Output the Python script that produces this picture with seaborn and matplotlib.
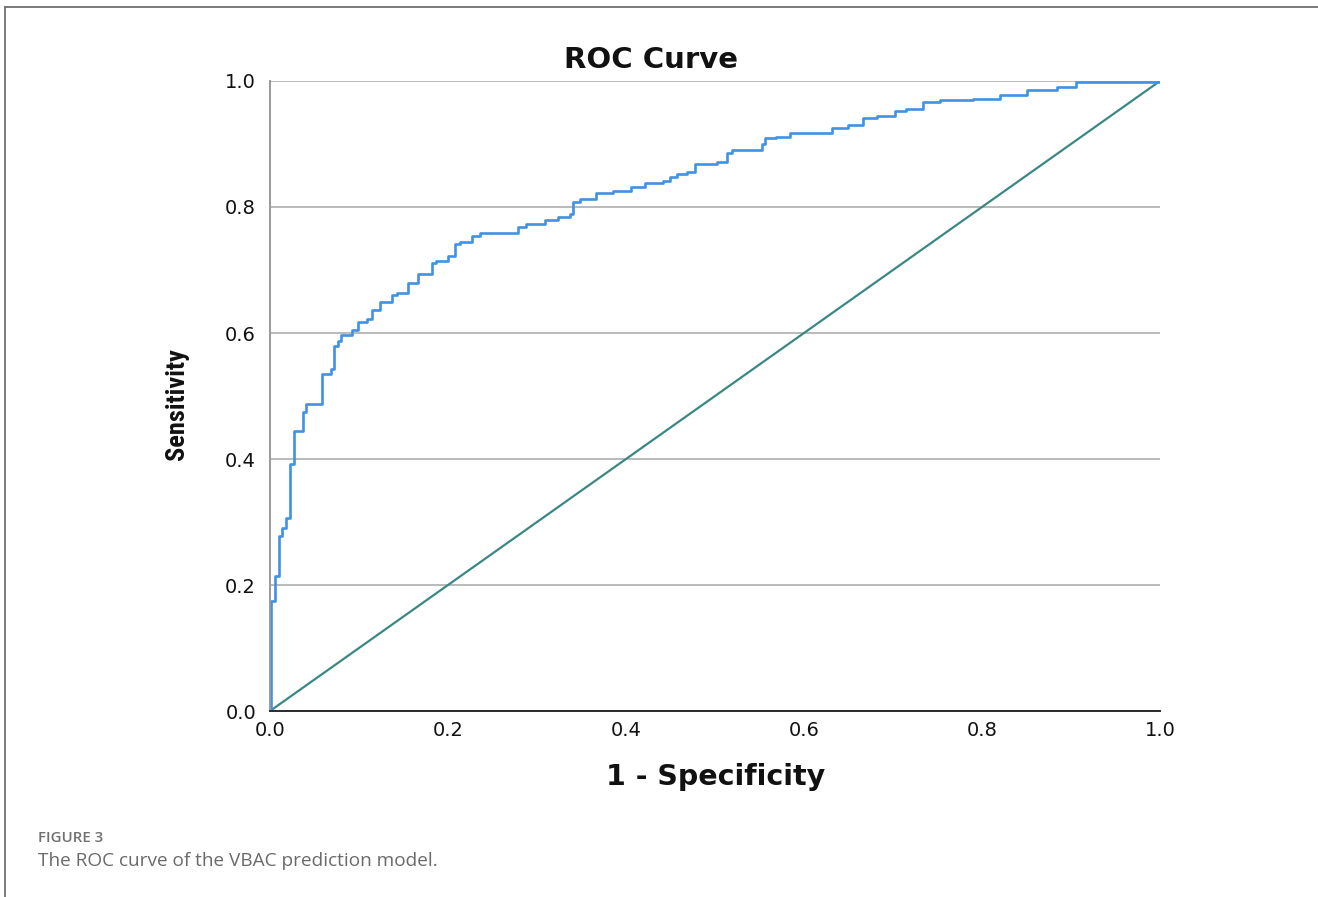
import matplotlib
matplotlib.use("Agg")
import matplotlib.pyplot as plt
from matplotlib.lines import Line2D
import seaborn as sns
import pandas as pd

# ---- data ----
fpr = [0.000, 0.001, 0.006, 0.010, 0.013, 0.018, 0.022, 0.027, 0.037, 0.040,
       0.058, 0.068, 0.072, 0.076, 0.080, 0.092, 0.099, 0.109, 0.115, 0.124,
       0.137, 0.143, 0.155, 0.166, 0.182, 0.187, 0.200, 0.208, 0.213, 0.227,
       0.236, 0.279, 0.288, 0.309, 0.324, 0.337, 0.341, 0.348, 0.366, 0.385,
       0.406, 0.421, 0.442, 0.449, 0.457, 0.468, 0.478, 0.502, 0.513, 0.519,
       0.553, 0.556, 0.569, 0.584, 0.631, 0.649, 0.666, 0.682, 0.702, 0.715,
       0.734, 0.753, 0.790, 0.820, 0.850, 0.884, 0.906, 1.000]
tpr = [0.000, 0.175, 0.215, 0.277, 0.290, 0.306, 0.392, 0.445, 0.475, 0.487,
       0.535, 0.543, 0.579, 0.588, 0.597, 0.605, 0.617, 0.622, 0.637, 0.649,
       0.660, 0.664, 0.679, 0.693, 0.711, 0.715, 0.722, 0.742, 0.745, 0.754,
       0.758, 0.768, 0.773, 0.779, 0.784, 0.789, 0.808, 0.812, 0.822, 0.826,
       0.832, 0.838, 0.842, 0.848, 0.853, 0.856, 0.868, 0.872, 0.886, 0.891,
       0.900, 0.909, 0.911, 0.917, 0.925, 0.930, 0.941, 0.944, 0.952, 0.956,
       0.966, 0.970, 0.972, 0.978, 0.986, 0.991, 0.998, 1.000]
diag_x = [0.0, 1.0]
diag_y = [0.0, 1.0]
ticks = [0.0, 0.2, 0.4, 0.6, 0.8, 1.0]
tick_labels = ["0.0", "0.2", "0.4", "0.6", "0.8", "1.0"]

title_text = "ROC Curve"
xlabel_text = "1 - Specificity"
ylabel_text = "Sensitivity"
fig_label = "FIGURE 3"
caption = "The ROC curve of the VBAC prediction model."

sns.set_style("white")
plt.rcParams['font.family'] = ['DejaVu Sans']

roc_df = pd.DataFrame({"fpr": fpr, "tpr": tpr})
diag_df = pd.DataFrame({"x": diag_x, "y": diag_y})

fig = plt.figure(figsize=(13.18, 8.97), dpi=100)
ax = fig.add_axes([270/1318, 1-711/897, 890/1318, 630/897])

ax.set_xlim(0, 1)
ax.set_ylim(0, 1)
ax.set_yticks(ticks)
ax.set_xticks(ticks)
ax.yaxis.grid(True, color="#b4b4b4", linewidth=1.3)
ax.xaxis.grid(False)
ax.set_axisbelow(True)

sns.lineplot(data=diag_df, x="x", y="y", ax=ax, color="#3a8884",
             linewidth=1.6, sort=False, estimator=None)
sns.lineplot(data=roc_df, x="fpr", y="tpr", ax=ax, color="#3f92e4",
             linewidth=1.9, sort=False, estimator=None, drawstyle="steps-post")

ax.set_yticklabels(tick_labels, fontsize=14, color="#111111")
ax.set_xticklabels(tick_labels, fontsize=14, color="#111111")
ax.tick_params(axis="both", length=0)
ax.tick_params(axis="y", pad=10)
ax.tick_params(axis="x", pad=7)

for s in ["top", "right"]:
    ax.spines[s].set_visible(False)
ax.spines["left"].set_color("#9a9a9a")
ax.spines["left"].set_linewidth(1.4)
ax.spines["bottom"].set_color("#2a2a2a")
ax.spines["bottom"].set_linewidth(1.4)

ax.set_xlabel("")
ax.set_ylabel("")

fig.text(651/1318, 1-60/897, title_text, ha="center", va="center",
         fontsize=21, fontweight="bold", color="#111111")
fig.text(716/1318, 1-777/897, xlabel_text, ha="center", va="center",
         fontsize=20.5, fontweight="bold", color="#111111")
fig.text(177/1318, 1-404/897, ylabel_text, ha="center", va="center",
         rotation=90, fontsize=19, fontweight="bold", color="#111111",
         family=["DejaVu Sans Condensed", "Roboto Condensed",
                 "Liberation Sans Narrow", "DejaVu Sans"],
         fontstretch="condensed")

fig.text(38/1318, 1-838/897, fig_label, ha="left", va="center",
         fontsize=10.8, fontweight="semibold", color="#707070",
         family=["Open Sans", "DejaVu Sans"])
fig.text(38/1318, 1-861/897, caption, ha="left", va="center",
         fontsize=13.7, color="#6a6a6a", family=["Open Sans", "DejaVu Sans"])

# page frame (left and top border)
fig.add_artist(Line2D([4.5/1318, 4.5/1318], [0, 1-7/897], transform=fig.transFigure,
                      color="#707070", linewidth=1.3))
fig.add_artist(Line2D([4.5/1318, 1], [1-7/897, 1-7/897], transform=fig.transFigure,
                      color="#707070", linewidth=1.3))

fig.savefig("out.png", dpi=100)
